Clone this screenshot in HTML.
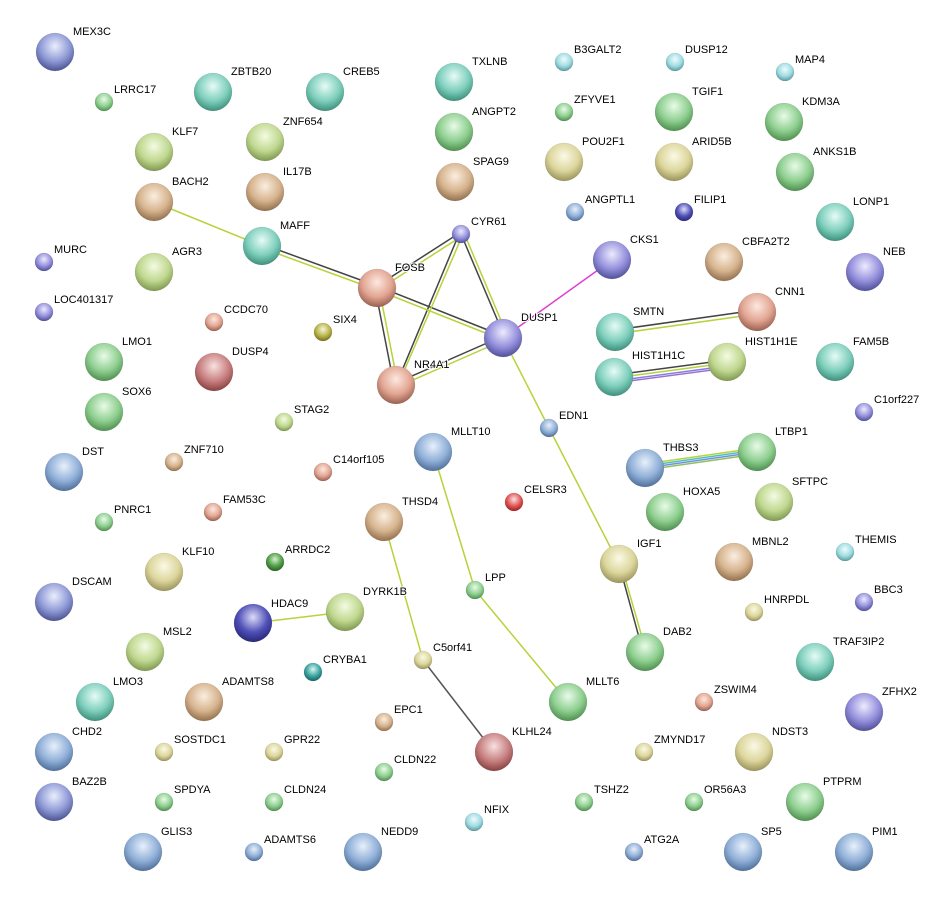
<!DOCTYPE html>
<html><head><meta charset="utf-8"><style>
html,body{margin:0;padding:0;background:#fff}
svg text{font-family:"Liberation Sans",sans-serif;font-size:11px;fill:#000;paint-order:stroke;stroke:#fff;stroke-width:2px}
</style></head><body>
<svg width="935" height="897" xmlns="http://www.w3.org/2000/svg">
<defs>
<radialGradient id="teal" cx="50%" cy="35%" r="65%"><stop offset="0" stop-color="#e6fbf6"/><stop offset="0.6" stop-color="#7fcfbd"/><stop offset="1" stop-color="#3f8f7d"/></radialGradient>
<radialGradient id="green" cx="50%" cy="35%" r="65%"><stop offset="0" stop-color="#e8fbe8"/><stop offset="0.6" stop-color="#8fcf90"/><stop offset="1" stop-color="#4f8f50"/></radialGradient>
<radialGradient id="yg" cx="50%" cy="35%" r="65%"><stop offset="0" stop-color="#f4fbe2"/><stop offset="0.6" stop-color="#c0d890"/><stop offset="1" stop-color="#7f9850"/></radialGradient>
<radialGradient id="yellow" cx="50%" cy="35%" r="65%"><stop offset="0" stop-color="#fbf9e6"/><stop offset="0.6" stop-color="#dcd69c"/><stop offset="1" stop-color="#9a945c"/></radialGradient>
<radialGradient id="tan" cx="50%" cy="35%" r="65%"><stop offset="0" stop-color="#fbeee0"/><stop offset="0.6" stop-color="#d6b48e"/><stop offset="1" stop-color="#94704e"/></radialGradient>
<radialGradient id="salmon" cx="50%" cy="35%" r="65%"><stop offset="0" stop-color="#fde8e0"/><stop offset="0.6" stop-color="#e2a592"/><stop offset="1" stop-color="#9a6050"/></radialGradient>
<radialGradient id="redbrown" cx="50%" cy="35%" r="65%"><stop offset="0" stop-color="#f8e0e0"/><stop offset="0.6" stop-color="#c88080"/><stop offset="1" stop-color="#884040"/></radialGradient>
<radialGradient id="purple" cx="50%" cy="35%" r="65%"><stop offset="0" stop-color="#ecebfd"/><stop offset="0.6" stop-color="#9590dc"/><stop offset="1" stop-color="#50509a"/></radialGradient>
<radialGradient id="blue" cx="50%" cy="35%" r="65%"><stop offset="0" stop-color="#e8f0fb"/><stop offset="0.6" stop-color="#90b0d8"/><stop offset="1" stop-color="#50709a"/></radialGradient>
<radialGradient id="bluepur" cx="50%" cy="35%" r="65%"><stop offset="0" stop-color="#ebeefd"/><stop offset="0.6" stop-color="#8f9ad6"/><stop offset="1" stop-color="#4c5492"/></radialGradient>
<radialGradient id="cyan" cx="50%" cy="35%" r="65%"><stop offset="0" stop-color="#eefcfd"/><stop offset="0.6" stop-color="#9fdce2"/><stop offset="1" stop-color="#5c9aa0"/></radialGradient>
<radialGradient id="red" cx="50%" cy="35%" r="65%"><stop offset="0" stop-color="#fde0e0"/><stop offset="0.6" stop-color="#e05555"/><stop offset="1" stop-color="#a02020"/></radialGradient>
<radialGradient id="dgreen" cx="50%" cy="35%" r="65%"><stop offset="0" stop-color="#d8f0d0"/><stop offset="0.6" stop-color="#4e9e46"/><stop offset="1" stop-color="#2a6020"/></radialGradient>
<radialGradient id="olive" cx="50%" cy="35%" r="65%"><stop offset="0" stop-color="#f6f6d8"/><stop offset="0.6" stop-color="#b8b448"/><stop offset="1" stop-color="#777020"/></radialGradient>
<radialGradient id="dblue" cx="50%" cy="35%" r="65%"><stop offset="0" stop-color="#dcdcf8"/><stop offset="0.6" stop-color="#5050b8"/><stop offset="1" stop-color="#282878"/></radialGradient>
<radialGradient id="dteal" cx="50%" cy="35%" r="65%"><stop offset="0" stop-color="#d8f4f4"/><stop offset="0.6" stop-color="#3aa4a0"/><stop offset="1" stop-color="#1a6460"/></radialGradient>
</defs>

<!-- edges -->
<g fill="none" stroke-width="1.5">
<line x1="154" y1="202" x2="262" y2="246" stroke="#b5d43a"/>
<g stroke="#444"><line x1="262" y1="244" x2="377" y2="286"/><line x1="377" y1="286" x2="461" y2="232"/><line x1="377" y1="286" x2="503" y2="336"/><line x1="375" y1="288" x2="394" y2="385"/><line x1="459" y1="234" x2="396" y2="385"/><line x1="461" y1="234" x2="505" y2="338"/><line x1="396" y1="383" x2="503" y2="336"/><line x1="619" y1="564" x2="643" y2="652"/><line x1="615" y1="330" x2="757" y2="310"/><line x1="614" y1="375" x2="727" y2="360"/><line x1="423" y1="660" x2="494" y2="752" stroke="#555"/></g>
<g stroke="#b5d43a"><line x1="262" y1="248" x2="377" y2="290"/><line x1="378" y1="290" x2="462" y2="236"/><line x1="377" y1="290" x2="503" y2="340"/><line x1="379" y1="288" x2="398" y2="385"/><line x1="463" y1="234" x2="398" y2="385"/><line x1="464" y1="233" x2="508" y2="337"/><line x1="397" y1="387" x2="504" y2="340"/><line x1="621" y1="564" x2="646" y2="651"/><line x1="615" y1="334" x2="757" y2="314"/><line x1="614" y1="378" x2="727" y2="363"/>
<line x1="503" y1="338" x2="549" y2="428"/><line x1="549" y1="428" x2="619" y2="564"/><line x1="433" y1="452" x2="475" y2="590"/><line x1="475" y1="590" x2="568" y2="702"/><line x1="384" y1="522" x2="423" y2="660"/><line x1="253" y1="623" x2="345" y2="612"/></g>
<line x1="614" y1="381" x2="727" y2="366" stroke="#8080e0"/><line x1="614" y1="383" x2="727" y2="368" stroke="#a070d0"/>
<line x1="503" y1="338" x2="612" y2="260" stroke="#e040d0"/>
<line x1="645" y1="464" x2="757" y2="448" stroke="#b5d43a"/><line x1="645" y1="466" x2="757" y2="450" stroke="#4fbfbf"/><line x1="645" y1="468" x2="757" y2="452" stroke="#7090e0"/><line x1="645" y1="470" x2="757" y2="454" stroke="#90c060"/>
</g>

<!-- nodes -->
<g stroke="#0002" stroke-width="0.5">
<circle cx="55" cy="52" r="19" fill="url(#bluepur)"/>
<circle cx="104" cy="102" r="9" fill="url(#green)"/>
<circle cx="213" cy="92" r="19" fill="url(#teal)"/>
<circle cx="325" cy="92" r="19" fill="url(#teal)"/>
<circle cx="454" cy="82" r="19" fill="url(#teal)"/>
<circle cx="564" cy="62" r="9" fill="url(#cyan)"/>
<circle cx="675" cy="62" r="9" fill="url(#cyan)"/>
<circle cx="785" cy="72" r="9" fill="url(#cyan)"/>
<circle cx="154" cy="152" r="19" fill="url(#yg)"/>
<circle cx="265" cy="142" r="19" fill="url(#yg)"/>
<circle cx="454" cy="132" r="19" fill="url(#green)"/>
<circle cx="564" cy="112" r="9" fill="url(#green)"/>
<circle cx="674" cy="112" r="19" fill="url(#green)"/>
<circle cx="784" cy="122" r="19" fill="url(#green)"/>
<circle cx="674" cy="162" r="19" fill="url(#yellow)"/>
<circle cx="564" cy="162" r="19" fill="url(#yellow)"/>
<circle cx="795" cy="172" r="19" fill="url(#green)"/>
<circle cx="265" cy="192" r="19" fill="url(#tan)"/>
<circle cx="455" cy="182" r="19" fill="url(#tan)"/>
<circle cx="154" cy="202" r="19" fill="url(#tan)"/>
<circle cx="575" cy="212" r="9" fill="url(#blue)"/>
<circle cx="684" cy="212" r="9" fill="url(#dblue)"/>
<circle cx="835" cy="222" r="19" fill="url(#teal)"/>
<circle cx="262" cy="246" r="19" fill="url(#teal)"/>
<circle cx="461" cy="234" r="9" fill="url(#purple)"/>
<circle cx="612" cy="260" r="19" fill="url(#purple)"/>
<circle cx="724" cy="262" r="19" fill="url(#tan)"/>
<circle cx="44" cy="262" r="9" fill="url(#purple)"/>
<circle cx="154" cy="272" r="19" fill="url(#yg)"/>
<circle cx="377" cy="288" r="19" fill="url(#salmon)"/>
<circle cx="865" cy="272" r="19" fill="url(#purple)"/>
<circle cx="44" cy="312" r="9" fill="url(#purple)"/>
<circle cx="214" cy="322" r="9" fill="url(#salmon)"/>
<circle cx="323" cy="332" r="9" fill="url(#olive)"/>
<circle cx="503" cy="338" r="19" fill="url(#purple)"/>
<circle cx="615" cy="332" r="19" fill="url(#teal)"/>
<circle cx="757" cy="312" r="19" fill="url(#salmon)"/>
<circle cx="104" cy="362" r="19" fill="url(#green)"/>
<circle cx="214" cy="372" r="19" fill="url(#redbrown)"/>
<circle cx="396" cy="385" r="19" fill="url(#salmon)"/>
<circle cx="614" cy="377" r="19" fill="url(#teal)"/>
<circle cx="727" cy="362" r="19" fill="url(#yg)"/>
<circle cx="835" cy="362" r="19" fill="url(#teal)"/>
<circle cx="104" cy="412" r="19" fill="url(#green)"/>
<circle cx="284" cy="422" r="9" fill="url(#yg)"/>
<circle cx="549" cy="428" r="9" fill="url(#blue)"/>
<circle cx="864" cy="412" r="9" fill="url(#purple)"/>
<circle cx="433" cy="452" r="19" fill="url(#blue)"/>
<circle cx="757" cy="452" r="19" fill="url(#green)"/>
<circle cx="64" cy="472" r="19" fill="url(#blue)"/>
<circle cx="174" cy="462" r="9" fill="url(#tan)"/>
<circle cx="323" cy="472" r="9" fill="url(#salmon)"/>
<circle cx="645" cy="468" r="19" fill="url(#blue)"/>
<circle cx="514" cy="502" r="9" fill="url(#red)"/>
<circle cx="774" cy="502" r="19" fill="url(#yg)"/>
<circle cx="665" cy="512" r="19" fill="url(#green)"/>
<circle cx="213" cy="512" r="9" fill="url(#salmon)"/>
<circle cx="384" cy="522" r="19" fill="url(#tan)"/>
<circle cx="104" cy="522" r="9" fill="url(#green)"/>
<circle cx="845" cy="552" r="9" fill="url(#cyan)"/>
<circle cx="619" cy="564" r="19" fill="url(#yellow)"/>
<circle cx="734" cy="562" r="19" fill="url(#tan)"/>
<circle cx="275" cy="562" r="9" fill="url(#dgreen)"/>
<circle cx="164" cy="572" r="19" fill="url(#yellow)"/>
<circle cx="475" cy="590" r="9" fill="url(#green)"/>
<circle cx="54" cy="602" r="19" fill="url(#bluepur)"/>
<circle cx="345" cy="612" r="19" fill="url(#yg)"/>
<circle cx="253" cy="623" r="19" fill="url(#dblue)"/>
<circle cx="754" cy="612" r="9" fill="url(#yellow)"/>
<circle cx="864" cy="602" r="9" fill="url(#purple)"/>
<circle cx="145" cy="652" r="19" fill="url(#yg)"/>
<circle cx="423" cy="660" r="9" fill="url(#yellow)"/>
<circle cx="645" cy="652" r="19" fill="url(#green)"/>
<circle cx="815" cy="662" r="19" fill="url(#teal)"/>
<circle cx="313" cy="672" r="9" fill="url(#dteal)"/>
<circle cx="95" cy="702" r="19" fill="url(#teal)"/>
<circle cx="204" cy="702" r="19" fill="url(#tan)"/>
<circle cx="568" cy="702" r="19" fill="url(#green)"/>
<circle cx="704" cy="702" r="9" fill="url(#salmon)"/>
<circle cx="864" cy="712" r="19" fill="url(#purple)"/>
<circle cx="384" cy="722" r="9" fill="url(#tan)"/>
<circle cx="54" cy="752" r="19" fill="url(#blue)"/>
<circle cx="164" cy="752" r="9" fill="url(#yellow)"/>
<circle cx="274" cy="752" r="9" fill="url(#yellow)"/>
<circle cx="494" cy="752" r="19" fill="url(#redbrown)"/>
<circle cx="644" cy="752" r="9" fill="url(#yellow)"/>
<circle cx="754" cy="752" r="19" fill="url(#yellow)"/>
<circle cx="384" cy="772" r="9" fill="url(#green)"/>
<circle cx="54" cy="802" r="19" fill="url(#bluepur)"/>
<circle cx="164" cy="802" r="9" fill="url(#green)"/>
<circle cx="274" cy="802" r="9" fill="url(#green)"/>
<circle cx="584" cy="802" r="9" fill="url(#green)"/>
<circle cx="694" cy="802" r="9" fill="url(#green)"/>
<circle cx="805" cy="802" r="19" fill="url(#green)"/>
<circle cx="474" cy="822" r="9" fill="url(#cyan)"/>
<circle cx="143" cy="852" r="19" fill="url(#blue)"/>
<circle cx="254" cy="852" r="9" fill="url(#blue)"/>
<circle cx="363" cy="852" r="19" fill="url(#blue)"/>
<circle cx="634" cy="852" r="9" fill="url(#blue)"/>
<circle cx="743" cy="852" r="19" fill="url(#blue)"/>
<circle cx="854" cy="852" r="19" fill="url(#blue)"/>
</g>

<!-- labels -->
<g>
<text x="73" y="35">MEX3C</text>
<text x="114" y="93">LRRC17</text>
<text x="231" y="75">ZBTB20</text>
<text x="343" y="75">CREB5</text>
<text x="472" y="65">TXLNB</text>
<text x="574" y="53">B3GALT2</text>
<text x="685" y="53">DUSP12</text>
<text x="795" y="63">MAP4</text>
<text x="172" y="135">KLF7</text>
<text x="283" y="125">ZNF654</text>
<text x="472" y="115">ANGPT2</text>
<text x="574" y="103">ZFYVE1</text>
<text x="692" y="95">TGIF1</text>
<text x="802" y="105">KDM3A</text>
<text x="692" y="145">ARID5B</text>
<text x="582" y="145">POU2F1</text>
<text x="813" y="155">ANKS1B</text>
<text x="283" y="175">IL17B</text>
<text x="473" y="165">SPAG9</text>
<text x="172" y="185">BACH2</text>
<text x="585" y="203">ANGPTL1</text>
<text x="694" y="203">FILIP1</text>
<text x="853" y="205">LONP1</text>
<text x="280" y="229">MAFF</text>
<text x="471" y="225">CYR61</text>
<text x="630" y="243">CKS1</text>
<text x="742" y="245">CBFA2T2</text>
<text x="54" y="253">MURC</text>
<text x="172" y="255">AGR3</text>
<text x="395" y="271">FOSB</text>
<text x="883" y="255">NEB</text>
<text x="54" y="303">LOC401317</text>
<text x="224" y="313">CCDC70</text>
<text x="333" y="323">SIX4</text>
<text x="521" y="321">DUSP1</text>
<text x="633" y="315">SMTN</text>
<text x="775" y="295">CNN1</text>
<text x="122" y="345">LMO1</text>
<text x="232" y="355">DUSP4</text>
<text x="414" y="368">NR4A1</text>
<text x="632" y="359">HIST1H1C</text>
<text x="745" y="345">HIST1H1E</text>
<text x="853" y="345">FAM5B</text>
<text x="122" y="395">SOX6</text>
<text x="294" y="413">STAG2</text>
<text x="559" y="419">EDN1</text>
<text x="874" y="403">C1orf227</text>
<text x="451" y="435">MLLT10</text>
<text x="775" y="435">LTBP1</text>
<text x="82" y="455">DST</text>
<text x="184" y="453">ZNF710</text>
<text x="333" y="463">C14orf105</text>
<text x="663" y="451">THBS3</text>
<text x="524" y="493">CELSR3</text>
<text x="792" y="485">SFTPC</text>
<text x="683" y="495">HOXA5</text>
<text x="223" y="503">FAM53C</text>
<text x="402" y="505">THSD4</text>
<text x="114" y="513">PNRC1</text>
<text x="855" y="543">THEMIS</text>
<text x="637" y="547">IGF1</text>
<text x="752" y="545">MBNL2</text>
<text x="285" y="553">ARRDC2</text>
<text x="182" y="555">KLF10</text>
<text x="485" y="581">LPP</text>
<text x="72" y="585">DSCAM</text>
<text x="363" y="595">DYRK1B</text>
<text x="271" y="607">HDAC9</text>
<text x="764" y="603">HNRPDL</text>
<text x="874" y="593">BBC3</text>
<text x="163" y="635">MSL2</text>
<text x="433" y="651">C5orf41</text>
<text x="663" y="635">DAB2</text>
<text x="833" y="645">TRAF3IP2</text>
<text x="323" y="663">CRYBA1</text>
<text x="113" y="685">LMO3</text>
<text x="222" y="685">ADAMTS8</text>
<text x="586" y="685">MLLT6</text>
<text x="714" y="693">ZSWIM4</text>
<text x="882" y="695">ZFHX2</text>
<text x="394" y="713">EPC1</text>
<text x="72" y="735">CHD2</text>
<text x="174" y="743">SOSTDC1</text>
<text x="284" y="743">GPR22</text>
<text x="512" y="735">KLHL24</text>
<text x="654" y="743">ZMYND17</text>
<text x="772" y="735">NDST3</text>
<text x="394" y="763">CLDN22</text>
<text x="72" y="785">BAZ2B</text>
<text x="174" y="793">SPDYA</text>
<text x="284" y="793">CLDN24</text>
<text x="594" y="793">TSHZ2</text>
<text x="704" y="793">OR56A3</text>
<text x="823" y="785">PTPRM</text>
<text x="484" y="813">NFIX</text>
<text x="161" y="835">GLIS3</text>
<text x="264" y="843">ADAMTS6</text>
<text x="381" y="835">NEDD9</text>
<text x="644" y="843">ATG2A</text>
<text x="761" y="835">SP5</text>
<text x="872" y="835">PIM1</text>
</g>
</svg>
</body></html>
